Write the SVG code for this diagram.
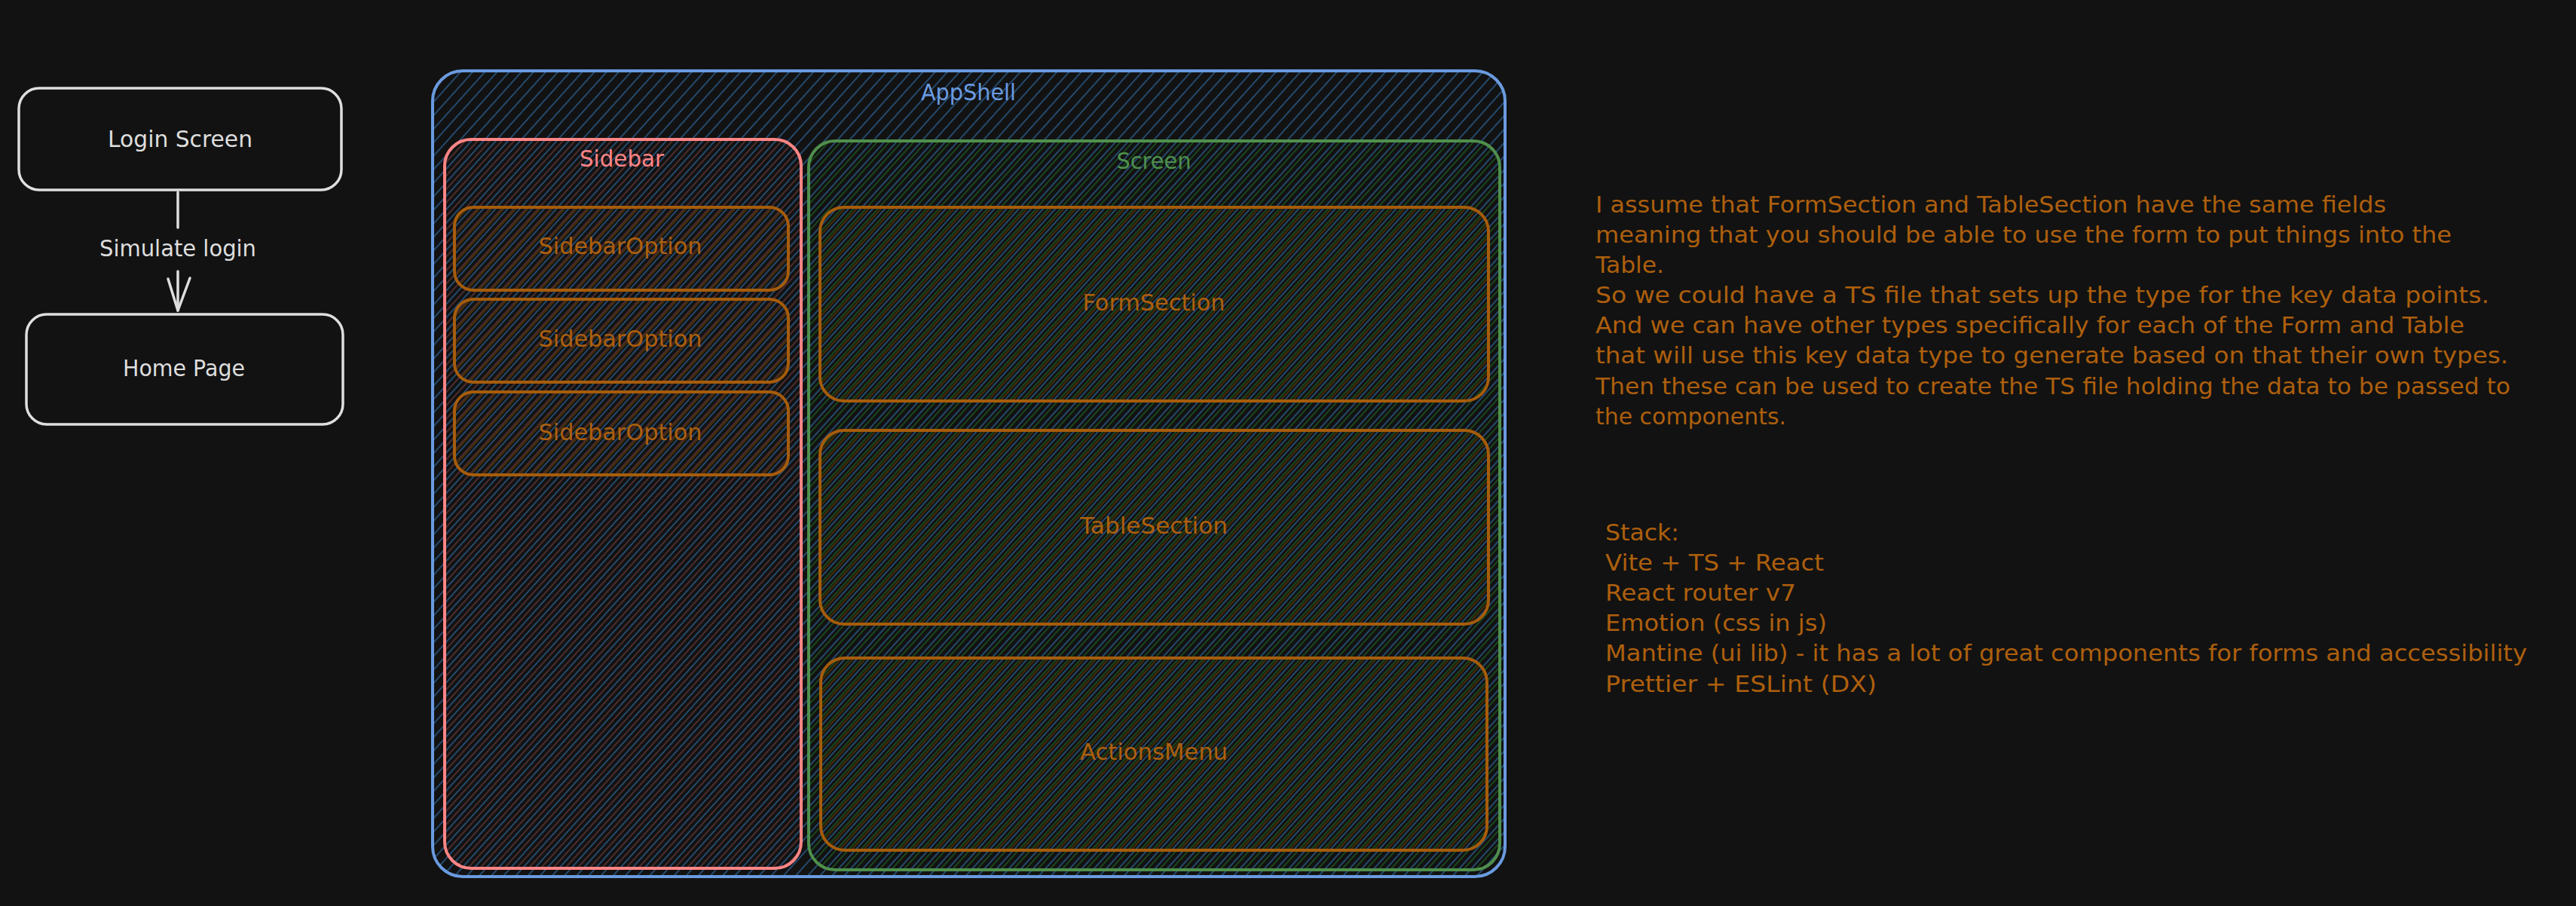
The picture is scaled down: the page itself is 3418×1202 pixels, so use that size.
<svg xmlns="http://www.w3.org/2000/svg" width="3418" height="1202" viewBox="0 0 3418 1202">
  <defs>
    <pattern id="hBlue" width="12" height="12" patternUnits="userSpaceOnUse" patternTransform="rotate(42)">
      <line x1="2" y1="0" x2="2" y2="12" stroke="#24496c" stroke-width="2"/>
    </pattern>
    <pattern id="hRed" width="12" height="12" patternUnits="userSpaceOnUse" patternTransform="rotate(42)">
      <line x1="8" y1="0" x2="8" y2="12" stroke="#4d2c2e" stroke-width="2"/>
    </pattern>
    <pattern id="hGreen" width="12" height="12" patternUnits="userSpaceOnUse" patternTransform="rotate(42)">
      <line x1="7" y1="0" x2="7" y2="12" stroke="#1b461d" stroke-width="2"/>
    </pattern>
    <pattern id="hOrange" width="12" height="12" patternUnits="userSpaceOnUse" patternTransform="rotate(42)">
      <line x1="10" y1="0" x2="10" y2="12" stroke="#442e08" stroke-width="2"/>
    </pattern>
    <style>
      .lbl { font-family: "DejaVu Sans", "Liberation Sans", sans-serif; font-size: 30px; }
      .white { fill: #dedede; }
      .orange { fill: #ad5f0d; }
      .wbox { fill: none; stroke: #dedede; stroke-width: 3.5; }
      .obox { fill: url(#hOrange); stroke: #a65c0b; stroke-width: 4; }
      .conn { stroke: #dedede; stroke-width: 3.5; fill: none; stroke-linecap: round; stroke-linejoin: round; }
    </style>
  </defs>
  <rect x="0" y="0" width="3418" height="1202" fill="#121212"/>

  <g id="login-screen">
    <rect class="wbox" x="25" y="117" width="428" height="135" rx="27"/>
    <text class="lbl white" x="239" y="195" text-anchor="middle" textLength="192" lengthAdjust="spacingAndGlyphs">Login Screen</text>
  </g>
  <g id="home-page">
    <rect class="wbox" x="35" y="417" width="420" height="146" rx="27"/>
    <text class="lbl white" x="244" y="499" text-anchor="middle" textLength="162" lengthAdjust="spacingAndGlyphs">Home Page</text>
  </g>

  <g id="appshell">
    <rect x="574" y="94" width="1423" height="1069" rx="40" fill="url(#hBlue)" stroke="#6a9be0" stroke-width="4"/>
    <text class="lbl" fill="#6a9be0" x="1285" y="133" text-anchor="middle" textLength="126" lengthAdjust="spacingAndGlyphs">AppShell</text>
  </g>

  <g id="sidebar">
    <rect x="590" y="185" width="473" height="967" rx="35" fill="url(#hRed)" stroke="#ff8585" stroke-width="4"/>
    <text class="lbl" fill="#ff8585" x="825" y="221" text-anchor="middle" textLength="112" lengthAdjust="spacingAndGlyphs">Sidebar</text>
  </g>
  <g id="sidebar-option-1">
    <rect class="obox" x="603" y="275" width="443" height="110" rx="25"/>
    <text class="lbl orange" x="823" y="337" text-anchor="middle" textLength="217" lengthAdjust="spacingAndGlyphs">SidebarOption</text>
  </g>
  <g id="sidebar-option-2">
    <rect class="obox" x="603" y="397" width="443" height="110" rx="25"/>
    <text class="lbl orange" x="823" y="460" text-anchor="middle" textLength="217" lengthAdjust="spacingAndGlyphs">SidebarOption</text>
  </g>
  <g id="sidebar-option-3">
    <rect class="obox" x="603" y="520" width="443" height="110" rx="25"/>
    <text class="lbl orange" x="823" y="584" text-anchor="middle" textLength="217" lengthAdjust="spacingAndGlyphs">SidebarOption</text>
  </g>

  <g id="screen">
    <rect x="1073" y="187" width="917" height="967" rx="35" fill="url(#hGreen)" stroke="#4f8f4c" stroke-width="4"/>
    <text class="lbl" fill="#4f8f4c" x="1531" y="224" text-anchor="middle" textLength="99" lengthAdjust="spacingAndGlyphs">Screen</text>
  </g>
  <g id="form-section">
    <rect class="obox" x="1088" y="275" width="887" height="257" rx="32"/>
    <text class="lbl orange" x="1531" y="412" text-anchor="middle" textLength="189" lengthAdjust="spacingAndGlyphs">FormSection</text>
  </g>
  <g id="table-section">
    <rect class="obox" x="1088" y="571" width="887" height="257" rx="32"/>
    <text class="lbl orange" x="1531" y="708" text-anchor="middle" textLength="196" lengthAdjust="spacingAndGlyphs">TableSection</text>
  </g>
  <g id="actions-menu">
    <rect class="obox" x="1089" y="873" width="884" height="255" rx="32"/>
    <text class="lbl orange" x="1531" y="1008" text-anchor="middle" textLength="196" lengthAdjust="spacingAndGlyphs">ActionsMenu</text>
  </g>

  <g id="notes">
    <text class="lbl orange" x="2117" y="282" textLength="1049" lengthAdjust="spacingAndGlyphs">I assume that FormSection and TableSection have the same fields</text>
    <text class="lbl orange" x="2117" y="322" textLength="1136" lengthAdjust="spacingAndGlyphs">meaning that you should be able to use the form to put things into the</text>
    <text class="lbl orange" x="2117" y="362" textLength="91" lengthAdjust="spacingAndGlyphs">Table.</text>
    <text class="lbl orange" x="2117" y="402" textLength="1186" lengthAdjust="spacingAndGlyphs">So we could have a TS file that sets up the type for the key data points.</text>
    <text class="lbl orange" x="2117" y="442" textLength="1153" lengthAdjust="spacingAndGlyphs">And we can have other types specifically for each of the Form and Table</text>
    <text class="lbl orange" x="2117" y="482" textLength="1211" lengthAdjust="spacingAndGlyphs">that will use this key data type to generate based on that their own types.</text>
    <text class="lbl orange" x="2117" y="523" textLength="1214" lengthAdjust="spacingAndGlyphs">Then these can be used to create the TS file holding the data to be passed to</text>
    <text class="lbl orange" x="2117" y="563" textLength="253" lengthAdjust="spacingAndGlyphs">the components.</text>
  </g>

  <g id="stack">
    <text class="lbl orange" x="2130" y="717" textLength="98" lengthAdjust="spacingAndGlyphs">Stack:</text>
    <text class="lbl orange" x="2130" y="757" textLength="290" lengthAdjust="spacingAndGlyphs">Vite + TS + React</text>
    <text class="lbl orange" x="2130" y="797" textLength="253" lengthAdjust="spacingAndGlyphs">React router v7</text>
    <text class="lbl orange" x="2130" y="837" textLength="294" lengthAdjust="spacingAndGlyphs">Emotion (css in js)</text>
    <text class="lbl orange" x="2130" y="877" textLength="1223" lengthAdjust="spacingAndGlyphs">Mantine (ui lib) - it has a lot of great components for forms and accessibility</text>
    <text class="lbl orange" x="2130" y="918" textLength="360" lengthAdjust="spacingAndGlyphs">Prettier + ESLint (DX)</text>
  </g>

  <g id="connectors">
    <line class="conn" x1="236" y1="255" x2="236" y2="302"/>
    <line class="conn" x1="236" y1="360" x2="236" y2="412"/>
    <polyline class="conn" points="223,370 236,412 252,369"/>
    <text class="lbl white" x="236" y="340" text-anchor="middle" textLength="208" lengthAdjust="spacingAndGlyphs">Simulate login</text>
  </g>
</svg>
